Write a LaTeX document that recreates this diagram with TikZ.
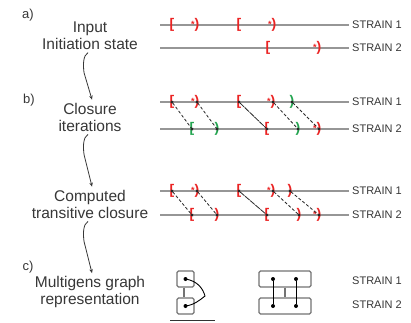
\documentclass[tikz,border=0pt]{standalone}
\usepackage{fontspec}
\setmainfont{Liberation Sans}
\usepackage{xcolor}
\usepackage{tikz}
\usetikzlibrary{arrows.meta}

\definecolor{brkred}{RGB}{235,35,35}
\definecolor{brkgreen}{RGB}{35,165,80}
\definecolor{linegray}{RGB}{150,150,150}
\definecolor{boxgray}{RGB}{115,115,115}
\definecolor{txtgray}{RGB}{55,55,55}

\begin{document}
\begin{tikzpicture}[x=1pt, y=-1pt,
    strainline/.style={draw=linegray, line width=1.8pt, shorten >=3pt},
    strainlabel/.style={anchor=west, inner sep=0pt, text=txtgray, font=\fontsize{11}{12}\selectfont},
    steplabel/.style={align=center, inner sep=0pt, text=txtgray, font=\fontsize{15.5}{17}\selectfont},
    partlabel/.style={inner sep=0pt, text=txtgray, font=\fontsize{13}{14}\selectfont},
    brk/.style={inner sep=0pt, font=\bfseries\fontsize{14}{14}\selectfont},
    link/.style={draw=black!85, line width=0.8pt, dash pattern=on 3pt off 2pt,
        {Circle[length=3pt]}-{Circle[length=3pt]}, shorten <=-1.5pt, shorten >=-1.5pt},
    solidlink/.style={link, dash pattern=on 6pt off 0.8pt},
    flow/.style={draw=txtgray, line width=0.8pt, -{Stealth[length=4pt, width=3.5pt]}},
    gbox/.style={draw=boxgray, line width=1.1pt, rounded corners=1.5pt, inner sep=0pt, minimum height=16pt},
    gdot/.style={circle, fill=black, inner sep=0pt, minimum size=4pt}]

        \fill[white] (0,0) rectangle (411,322);
        \useasboundingbox (0,0) rectangle (411,322);

        % Bracket glyphs
        \newcommand\bropen{[}
        \newcommand\brclose{)}
        \newcommand\brstar{\llap{\raisebox{1pt}{\fontsize{9}{9}\selectfont *}})}

        % Left column
        \node[partlabel] (pa) at (28,15) {a)};
        \node[partlabel] (pb) at (29,100) {b)};
        \node[partlabel] (pc) at (28,267) {c)};

        \node[steplabel] (inp) at (90,35.5) {Input\\Initiation state};
        \node[steplabel] (clo) at (90,117) {Closure\\iterations};
        \node[steplabel] (comp) at (90,204) {Computed\\transitive closure};
        \node[steplabel] (mult) at (90,292) {Multigens graph\\representation};

        \foreach \from/\to in {inp/clo, clo/comp, comp/mult}
            \draw[flow] ([xshift=-2pt, yshift=-3pt]\from.south) .. controls +(-5,3) and +(-1,-8) .. ++(-4,20)
                -- ([xshift=2pt, yshift=3pt]\to.north);

        % Strain lines
        \foreach \nm/\y/\s in {sa1/25/1, sa2/48/2, sb1/102/1, sb2/129/2, sc1/191/1, sc2/215/2}{
            \coordinate (\nm-beg) at (160,\y);
            \node[strainlabel] (\nm-lab) at (352,\y) {STRAIN \s};
            \draw[strainline] (\nm-beg) -- (\nm-lab.west);
        }

        % a) input
        \foreach \nm/\x/\y/\t/\col in {a1/172/25/\bropen/brkred, a2/197/25/\brstar/brkred,
                a3/239/25/\bropen/brkred, a4/274/25/\brstar/brkred,
                a5/268/48/\bropen/brkred, a6/319/48/\brstar/brkred}
            \node[brk, text=\col] (\nm) at (\x,\y) {\t};

        % b) closure iterations
        \foreach \nm/\x/\y/\t/\col in {b1/172/102/\bropen/brkred, b2/197/102/\brstar/brkred,
                b3/239/102/\bropen/brkred, b4/273/102/\brstar/brkred, b5/292/102/\brclose/brkgreen,
                b6/192/129/\bropen/brkgreen, b7/217/129/\brclose/brkgreen, b8/267/129/\bropen/brkred,
                b9/298/129/\brclose/brkgreen, b10/319/129/\brstar/brkred}
            \node[brk, text=\col] (\nm) at (\x,\y) {\t};

        % computed closure
        \foreach \nm/\x/\y/\t in {c1/172/191/\bropen, c2/197/191/\brstar,
                c3/239/191/\bropen, c4/273/191/\brstar, c5/290/191/\brclose,
                c6/192/215/\bropen, c7/217/215/\brclose, c8/267/215/\bropen,
                c9/299/215/\brclose, c10/319/215/\brstar}
            \node[brk, text=brkred] (\nm) at (\x,\y) {\t};

        \foreach \p/\q/\sty in {b1/b6/link, b2/b7/link, b3/b8/solidlink, b4/b9/link, b5/b10/link,
                c1/c6/link, c2/c7/link, c3/c8/solidlink, c4/c9/link, c5/c10/link}
            \draw[\sty] (\p.center) -- (\q.center);

        % c) graph
        \node[gbox, minimum width=17pt] (lbox1) at (185.5,279) {};
        \node[gbox, minimum width=17pt] (lbox2) at (185.5,306) {};
        \node[gbox, minimum width=52pt] (rbox1) at (285,279) {};
        \node[gbox, minimum width=52pt] (rbox2) at (285,306) {};
        \draw[boxgray, line width=1.1pt] ([xshift=-1.5pt]lbox1.south) -- ([xshift=-1.5pt]lbox2.north);
        \draw[boxgray, line width=1.1pt] (rbox1.south) -- (rbox2.north);

        \node[gdot] (ldot1) at (lbox1.center) {};
        \node[gdot] (ldot2) at (lbox2.center) {};
        \node[gdot] (rdot1) at ([xshift=-12pt]rbox1.center) {};
        \node[gdot] (rdot2) at ([xshift=11pt]rbox1.center) {};
        \node[gdot] (rdot3) at ([xshift=-12pt]rbox2.center) {};
        \node[gdot] (rdot4) at ([xshift=11pt]rbox2.center) {};
        \draw[line width=1pt] (rdot1) -- (rdot3);
        \draw[line width=1pt] (rdot2) -- (rdot4);

        \coordinate (lapex) at (205,296);
        \draw[line width=0.9pt] (ldot1.center) .. controls (198,281) and (203,289) .. (lapex)
            .. controls (200,300) and (194,305) .. (ldot2.center);

        \node[strainlabel] (sd1-lab) at (352,281) {STRAIN 1};
        \node[strainlabel] (sd2-lab) at (352,305) {STRAIN 2};

        \draw[black!80, line width=1pt] (170,320) -- (215,320);

\end{tikzpicture}
\end{document}
